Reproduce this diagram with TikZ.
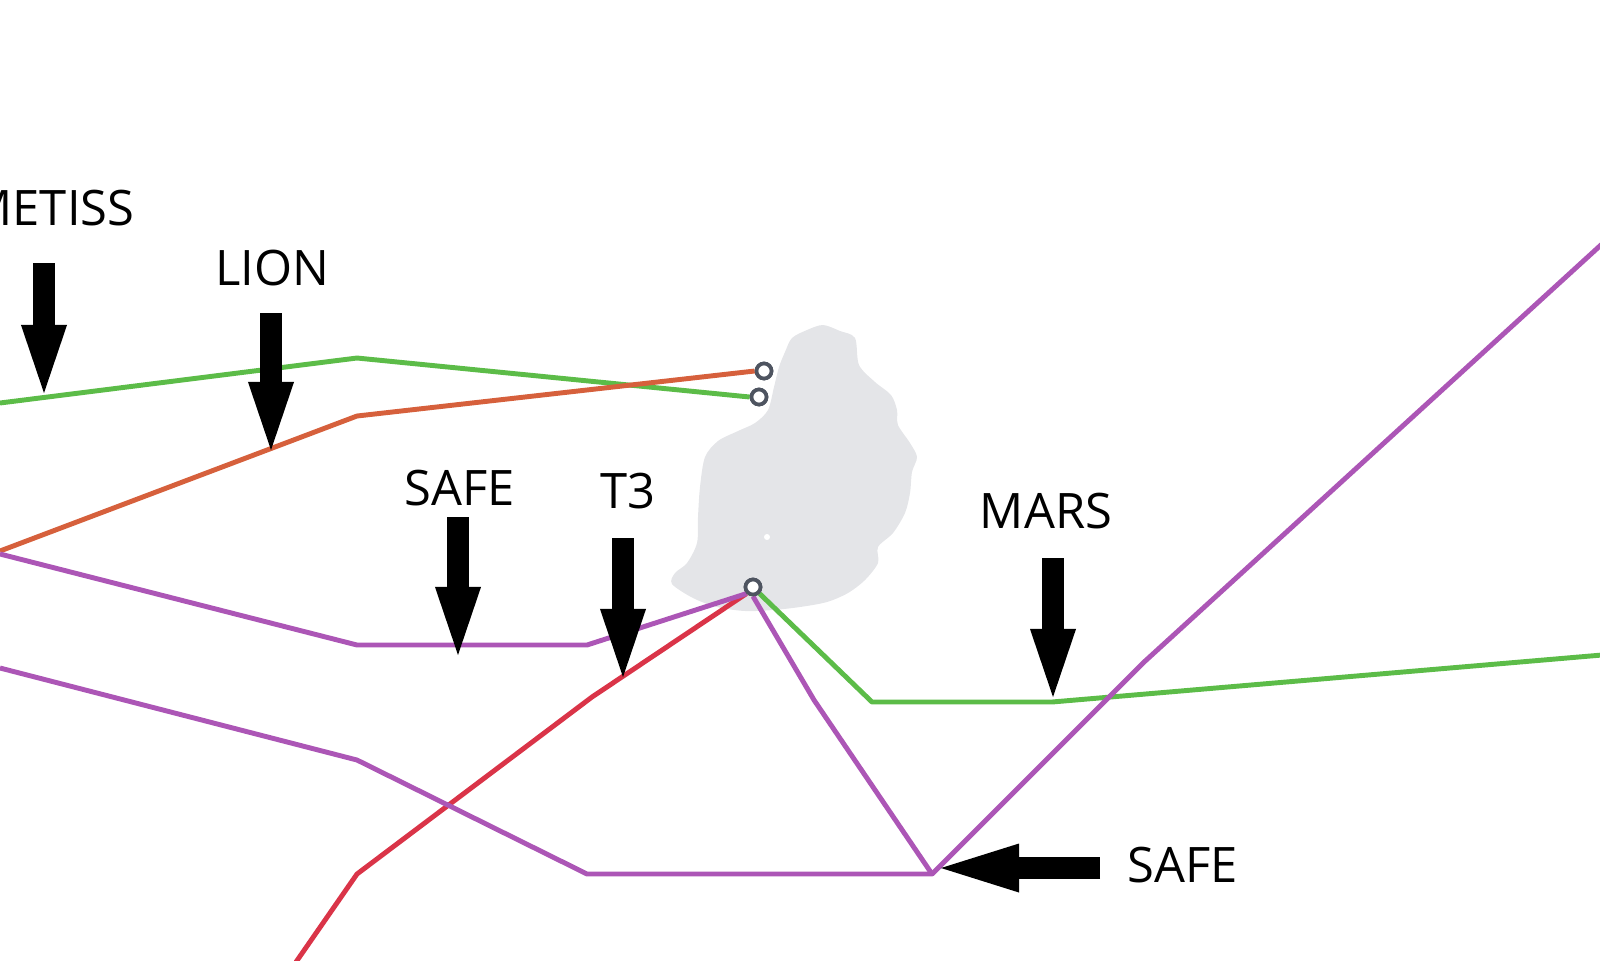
\documentclass[tikz,border=0pt]{standalone}
\usepackage{fontspec}
\setmainfont{Open Sans}
\usetikzlibrary{positioning,arrows.meta}

\definecolor{cblgreen}{RGB}{92,188,72}
\definecolor{cblorange}{RGB}{214,96,60}
\definecolor{cblred}{RGB}{218,52,72}
\definecolor{cblpurple}{RGB}{172,86,182}
\definecolor{islandgray}{RGB}{228,229,232}
\definecolor{stationgray}{RGB}{78,84,96}

\tikzset{
    cable/.style={line width=1.4pt,line join=round},
    station/.style={circle,draw=stationgray,fill=white,line width=1.05pt,minimum size=0.15cm,inner sep=0pt},
    cname/.style={inner sep=0pt,font=\fontsize{13.9}{16}\selectfont},
    pointer/.style={line width=0.22cm,-{Triangle[length=0.68cm,width=0.46cm,line width=0pt]}},
    widepointer/.style={line width=0.22cm,-{Triangle[length=0.78cm,width=0.49cm,line width=0pt]}}
}

\begin{document}
\begin{tikzpicture}[x=0.01cm,y=-0.01cm]
            \useasboundingbox (0,0) rectangle (1600,960);
            \clip (0,0) rectangle (1600,960);

            % island
            \fill[islandgray] plot[smooth cycle,tension=0.5] coordinates {
                (785,352) (792,338) (807,330) (823,325) (840,331) (855,338) (859,365) (875,382)
                (891,395) (897,410) (898,425) (910,443) (917,457) (912,472) (910,493) (905,513)
                (893,533) (878,547) (878,563) (865,580) (848,593) (827,602) (800,607) (773,610)
                (745,611) (717,607) (693,598) (672,584) (675,573) (687,563) (697,543) (698,517)
                (700,487) (705,457) (718,441) (738,431) (755,423) (768,410) (774,387) (779,367)};
            \fill[white] (767,537) circle (3);

            % landing stations
            \node[station] (stNorth) at (764,371) {};
            \node[station] (stMid) at (759,397) {};
            \node[station] (stSouth) at (753,587) {};

            % cable bends and free ends
            \coordinate (gW) at (0,403);      \coordinate (gW1) at (357,358);
            \coordinate (oW) at (0,551);      \coordinate (oW1) at (357,416);
            \coordinate (pA) at (0,554);      \coordinate (pA1) at (357,645);  \coordinate (pA2) at (587,645);
            \coordinate (rS) at (296,962);    \coordinate (rS1) at (357,874);  \coordinate (rS2) at (592,697);
            \coordinate (pB) at (0,668);      \coordinate (pB1) at (357,760);  \coordinate (pB2) at (587,874);
            \coordinate (pJ) at (932,874);    \coordinate (pB3) at (1143,663); \coordinate (pE) at (1602,244);
            \coordinate (pS1) at (814,700);
            \coordinate (gE1) at (872,702);   \coordinate (gE2) at (1052,702); \coordinate (gE) at (1602,655);

            % cables
            \draw[cable,cblgreen] (gW) -- (gW1) -- (stMid.west);
            \draw[cable,cblgreen] (stSouth.south east) -- (gE1) -- (gE2) -- (gE);
            \draw[cable,cblred] (rS) -- (rS1) -- (rS2) -- (stSouth.south west);
            \draw[cable,cblorange] (oW) -- (oW1) -- (stNorth.west);
            \draw[cable,cblpurple] (pA) -- (pA1) -- (pA2) -- (stSouth.south west);
            \draw[cable,cblpurple] (pB) -- (pB1) -- (pB2) -- (pJ) -- (pB3) -- (pE);
            \draw[cable,cblpurple] (stSouth.south) -- (pS1) -- (pJ);
            \node[station] at (stNorth) {};
            \node[station] at (stMid) {};
            \node[station] at (stSouth) {};

            % pointers
            \node[cname,anchor=east] (metiss) at (135,208) {METISS};
            \coordinate (metissTop) at (44,263);   \coordinate (metissTip) at (44,393);
            \draw[pointer] (metissTop) -- (metissTip);

            \node[cname] (lion) at (272,268) {LION};
            \coordinate (lionTop) at (271,313);    \coordinate (lionTip) at (271,450);
            \draw[pointer] (lionTop) -- (lionTip);

            \node[cname] (safeW) at (460,488) {SAFE};
            \coordinate (safeWTop) at (458,517);   \coordinate (safeWTip) at (458,655);
            \draw[pointer] (safeWTop) -- (safeWTip);

            \node[cname] (tthree) at (628,491) {T3};
            \coordinate (tthreeTop) at (623,538);  \coordinate (tthreeTip) at (623,677);
            \draw[pointer] (tthreeTop) -- (tthreeTip);

            \node[cname] (mars) at (1046,511) {MARS};
            \coordinate (marsTop) at (1053,558);   \coordinate (marsTip) at (1053,697);
            \draw[pointer] (marsTop) -- (marsTip);

            \node[cname] (safeE) at (1183,865) {SAFE};
            \coordinate (safeETail) at (1100,868); \coordinate (safeETip) at (941,868);
            \draw[widepointer] (safeETail) -- (safeETip);
        \end{tikzpicture}
\end{document}
